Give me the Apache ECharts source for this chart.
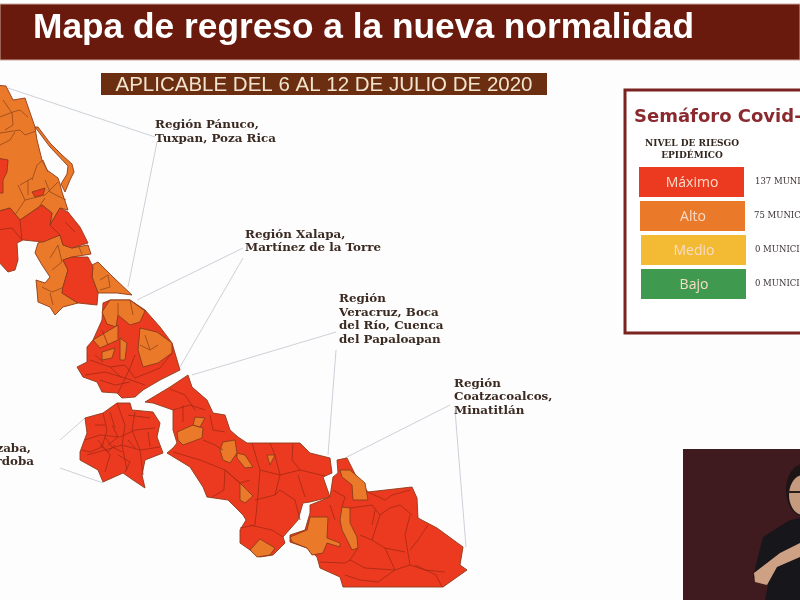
<!DOCTYPE html>
<html>
<head>
<meta charset="utf-8">
<title>Mapa de regreso a la nueva normalidad</title>
<script src="https://cdn.jsdelivr.net/npm/echarts@6/dist/echarts.min.js"></script>
<style>
    html, body { margin: 0; padding: 0; background: #fff; }
    #main { width: 800px; height: 600px; }
</style>
</head>
<body>
<div id="main"></div>
<script>
var riskLevels = ['Máximo', 'Alto', 'Medio', 'Bajo'];
var riskColors = ['#ec3a20', '#ea7a2a', '#f3bb33', '#3f9a50'];
var municipalityCounts = ['137 MUNICIPIOS', '75 MUNICIPIOS', '0 MUNICIPIOS', '0 MUNICIPIOS'];

// outlines, x right and y down. level 0 = Máximo, level 1 = Alto
var regionBase = [
    [[117,403],[130,403],[132,410],[153,412],[160,423],[157,437],[163,453],[145,460],[142,475],[145,488],[133,480],[123,473],[103,482],[98,470],[80,460],[80,452],[87,433],[85,418],[103,413]],
    [[103,303],[110,300],[130,300],[145,310],[160,327],[172,343],[180,370],[160,380],[143,390],[135,397],[122,398],[117,393],[102,392],[97,382],[83,377],[77,367],[87,362],[87,347],[93,340],[102,320]],
    [[188,375],[192,387],[207,400],[213,413],[225,415],[230,430],[238,437],[247,443],[300,443],[310,453],[330,458],[332,473],[323,477],[330,497],[310,502],[303,503],[298,520],[283,537],[285,543],[273,555],[260,557],[250,550],[240,543],[240,530],[246,520],[243,515],[228,500],[207,497],[203,487],[190,467],[167,453],[173,448],[177,443],[173,430],[173,410],[153,403],[145,402],[170,387]],
    [[337,460],[347,458],[357,478],[368,492],[412,487],[417,498],[418,518],[437,528],[463,547],[460,565],[467,570],[443,587],[343,587],[340,577],[320,568],[317,557],[307,548],[290,542],[290,535],[305,530],[310,513],[310,505],[330,497],[333,477],[338,473]]
];
var regionAlto = [
    [[-5,85],[6,86],[13,100],[25,98],[35,127],[37,140],[42,160],[47,170],[58,178],[60,184],[62,192],[68,210],[60,208],[50,225],[52,213],[42,205],[20,220],[10,208],[-5,212]],
    [[35,127],[38,127],[50,143],[62,155],[72,164],[74,172],[70,180],[65,192],[61,184],[67,174],[68,166],[50,147]],
    [[35,253],[38,243],[60,235],[63,245],[72,248],[88,245],[91,254],[72,257],[63,260],[68,270],[63,287],[62,293],[78,303],[63,307],[55,315],[50,307],[38,302],[37,290],[36,280],[45,283],[50,277],[42,265]],
    [[92,265],[98,262],[113,277],[132,295],[117,293],[98,293],[92,277]],
    [[102,312],[110,300],[130,300],[145,311],[140,322],[130,325],[118,315],[116,327],[107,324]],
    [[93,340],[118,325],[118,340],[100,348]],
    [[140,328],[157,332],[172,343],[172,353],[158,363],[143,367],[138,350]],
    [[102,352],[115,348],[112,358],[102,360]],
    [[120,338],[127,343],[125,360],[120,360]],
    [[177,432],[193,425],[203,428],[202,438],[183,445],[178,440]],
    [[195,417],[205,418],[200,427],[193,425]],
    [[223,442],[235,440],[237,453],[230,463],[223,460],[220,450]],
    [[237,453],[245,455],[253,467],[245,468],[237,458]],
    [[267,455],[275,455],[270,465]],
    [[250,550],[260,539],[275,548],[270,555],[257,557]],
    [[240,483],[253,496],[245,503],[240,500]],
    [[340,470],[350,470],[365,483],[368,500],[353,500],[352,485],[342,477]],
    [[290,537],[307,530],[310,517],[328,517],[327,538],[340,543],[340,547],[327,543],[323,553],[312,555],[307,548],[292,542]],
    [[342,507],[350,508],[350,523],[357,537],[358,548],[352,550],[342,530],[340,520]]
];
var regionEncima = [
    [[-3,158],[8,160],[7,172],[3,180],[3,193],[-3,193]],
    [[-3,212],[10,208],[20,220],[42,205],[52,213],[50,225],[60,208],[68,212],[80,227],[88,243],[72,248],[63,245],[60,235],[43,242],[23,240],[17,243],[18,260],[15,270],[8,272],[-3,260]],
    [[63,260],[72,257],[88,257],[93,267],[92,277],[98,293],[97,305],[78,303],[62,293],[63,287],[68,270]],
    [[32,192],[45,188],[43,195],[35,197]]
];

// inner municipal borders
var bordersAlto = [
    [[-3,118],[13,112],[20,110],[28,117]], [[3,100],[12,113],[13,125],[5,130]],
    [[0,133],[20,130],[25,135],[36,131]], [[0,145],[10,140],[15,132]],
    [[32,180],[37,165],[43,160],[48,172]], [[20,185],[32,178]], [[18,185],[25,200],[15,215]],
    [[25,200],[45,195],[58,182]], [[45,180],[50,192],[66,200]], [[28,180],[28,195]], [[37,210],[45,198]],
    [[50,258],[58,245],[62,262],[52,270]], [[42,287],[52,292],[62,288]], [[50,293],[53,305]],
    [[100,280],[108,275],[110,287],[100,290]], [[78,245],[82,254]],
    [[118,303],[118,315]], [[130,300],[133,315]], [[145,335],[150,350],[158,345]], [[140,345],[150,350]]
];
var bordersMaximo = [
    [[-3,230],[12,228],[22,240]], [[20,220],[22,240]], [[50,225],[60,235]], [[65,222],[75,232]],
    [[90,360],[110,367],[125,365]], [[85,375],[105,372],[125,378],[145,385]], [[100,380],[115,385],[130,382]],
    [[125,365],[135,378],[160,368],[172,353]], [[110,367],[122,378]], [[130,368],[118,393]],
    [[102,330],[108,345]], [[95,355],[103,362]], [[135,355],[130,368]],
    [[85,440],[100,435],[120,437],[135,430],[155,428]], [[103,413],[107,430],[102,447],[90,452],[82,450]],
    [[117,403],[125,425],[122,445],[127,470]], [[135,412],[132,430],[140,450],[143,475]],
    [[87,455],[105,450],[122,445],[140,450],[160,447]], [[98,440],[110,455],[105,472]],
    [[112,425],[118,437],[108,445]], [[128,415],[150,418]], [[118,455],[130,462],[125,472]],
    [[148,432],[150,447]], [[95,425],[105,425]], [[110,412],[115,428]],
    [[100,445],[108,452],[115,445]], [[105,437],[112,447],[122,452]], [[128,440],[135,448]],
    [[170,389],[185,395],[195,410]], [[173,410],[190,405],[205,410]], [[183,405],[183,422]],
    [[173,452],[200,460],[225,470],[240,483]], [[203,440],[215,445],[223,450]],
    [[210,415],[213,430],[225,432]], [[225,470],[224,490],[212,497]], [[225,470],[240,483],[250,480]],
    [[252,443],[260,470],[258,495],[255,525],[240,528]], [[260,470],[280,475],[300,470],[325,476]],
    [[293,443],[292,460],[300,470]], [[275,455],[280,475],[275,495],[255,500]],
    [[280,490],[295,500],[300,520]], [[275,495],[280,490]], [[270,443],[275,455]],
    [[250,525],[272,530],[283,537]], [[305,497],[298,475]],
    [[333,490],[345,497],[342,507]], [[350,508],[372,505],[380,515],[390,508],[400,505],[412,515]],
    [[368,492],[385,500],[392,495],[410,490]], [[380,515],[372,540],[385,548],[395,570]],
    [[410,515],[405,535],[410,565],[425,570],[445,572]], [[358,548],[350,560],[365,568],[395,570],[410,565]],
    [[320,562],[345,563],[350,560]], [[395,570],[378,582],[360,580],[345,575]],
    [[360,535],[372,540]], [[375,510],[372,525]], [[330,505],[335,520]], [[428,525],[418,540],[410,550]],
    [[415,565],[436,575],[442,587]], [[385,548],[405,552]]
];

// leader lines and callout texts
var leaderLines = [
    [[8,88],[155,137]], [[157,142],[128,287]],
    [[137,300],[243,248]], [[243,258],[180,367]],
    [[192,375],[336,332]], [[336,350],[328,455]],
    [[345,458],[450,405]], [[455,410],[466,547]],
    [[85,418],[60,440]], [[60,468],[103,483]]
];
var calloutTexts = [
    ['Región Pánuco,', 155, 125], ['Tuxpan, Poza Rica', 155, 139],
    ['Región Xalapa,', 245, 235], ['Martínez de la Torre', 245, 248],
    ['Región', 339, 299], ['Veracruz, Boca', 339, 313], ['del Río, Cuenca', 339, 326], ['del Papaloapan', 339, 340],
    ['Región', 454, 384], ['Coatzacoalcos,', 454, 397], ['Minatitlán', 454, 411]
];

function toGeo(p) { return [p[0], -p[1]]; }

var features = [], seriesData = [];
function addShapes(list, level, prefix) {
    list.forEach(function (ring, i) {
        var name = prefix + i;
        features.push({
            type: 'Feature',
            properties: { name: name },
            geometry: { type: 'Polygon', coordinates: [ring.concat([ring[0]]).map(toGeo)] }
        });
        seriesData.push({ name: name, value: level });
    });
}
addShapes(regionBase, 0, 'base');
addShapes(regionAlto, 1, 'alto');
addShapes(regionEncima, 0, 'max');
echarts.registerMap('veracruz', { type: 'FeatureCollection', features: features });

function borderSeries(list, color) {
    return {
        type: 'lines',
        coordinateSystem: 'geo',
        geoIndex: 0,
        polyline: true,
        silent: true,
        lineStyle: { color: color, width: 1, opacity: 0.85, curveness: 0 },
        data: list.map(function (l) { return { coords: l.map(toGeo) }; })
    };
}

var graphics = [
    { type: 'rect', shape: { x: 0, y: 4, width: 800, height: 56 }, style: { fill: '#6a1a0c', stroke: '#c9a79b', lineWidth: 1 } },
    { type: 'text', style: { text: 'Mapa de regreso a la nueva normalidad', x: 33, y: 28, fill: '#fff', font: 'bold 35.3px "Liberation Sans"', verticalAlign: 'middle' } },
    { type: 'rect', shape: { x: 101, y: 73, width: 446, height: 22 }, style: { fill: '#6b2e10' } },
    { type: 'text', style: { text: 'APLICABLE DEL 6 AL 12 DE JULIO DE 2020', x: 324, y: 85, fill: '#f2e3cf', font: '20.5px "Liberation Sans"', align: 'center', verticalAlign: 'middle' } },
    { type: 'rect', shape: { x: 625, y: 90, width: 190, height: 243 }, style: { fill: '#fff', stroke: '#7a2320', lineWidth: 3 } },
    { type: 'text', style: { text: 'Semáforo Covid-19', x: 634, y: 117, fill: '#8a2a2f', font: 'bold 18px "DejaVu Sans"', verticalAlign: 'middle' } },
    { type: 'text', style: { text: 'NIVEL DE RIESGO', x: 692, y: 144, fill: '#33261f', font: 'bold 9px "DejaVu Serif"', align: 'center', verticalAlign: 'middle' } },
    { type: 'text', style: { text: 'EPIDÉMICO', x: 692, y: 156, fill: '#33261f', font: 'bold 9px "DejaVu Serif"', align: 'center', verticalAlign: 'middle' } },
    { type: 'rect', shape: { x: 683, y: 449, width: 117, height: 151 }, style: { fill: '#3f1a1e' } },
    { type: 'ellipse', shape: { cx: 803, cy: 490, rx: 17, ry: 26 }, style: { fill: '#1d1416' } },
    { type: 'ellipse', shape: { cx: 803, cy: 495, rx: 14, ry: 20 }, style: { fill: '#c59a7e' } },
    { type: 'rect', shape: { x: 787, y: 491, width: 13, height: 2 }, style: { fill: '#2a1c1c' } },
    { type: 'polygon', shape: { points: [[763,537],[790,520],[800,518],[800,600],[765,600],[768,585],[753,578],[756,565]] }, style: { fill: '#17161b' } },
    { type: 'polygon', shape: { points: [[754,573],[780,553],[800,543],[800,557],[777,567],[767,585],[755,582]] }, style: { fill: '#cfa184' } }
];
riskLevels.forEach(function (level, i) {
    var y = 167 + i * 34;
    graphics.push({ type: 'rect', shape: { x: 639 + Math.min(i, 2), y: y, width: 105, height: 30 }, style: { fill: riskColors[i] } });
    graphics.push({ type: 'text', style: { text: level, x: 692 + Math.min(i, 2), y: y + 16, fill: '#f8dcc8', font: '14px "Open Sans"', align: 'center', verticalAlign: 'middle' } });
    graphics.push({ type: 'text', style: { text: municipalityCounts[i], x: i === 1 ? 754 : 755, y: y + 15, fill: '#3a3030', font: '8.5px "DejaVu Serif"', verticalAlign: 'middle' } });
});
leaderLines.forEach(function (l) {
    graphics.push({ type: 'line', shape: { x1: l[0][0], y1: l[0][1], x2: l[1][0], y2: l[1][1] }, style: { stroke: '#cdd1d8', lineWidth: 1 } });
});
calloutTexts.forEach(function (t) {
    graphics.push({ type: 'text', style: { text: t[0], x: t[1], y: t[2], fill: '#3b2a22', font: 'bold 11.9px "DejaVu Serif"', verticalAlign: 'middle' } });
});
graphics.push({ type: 'text', style: { text: 'Región Orizaba,', x: 31, y: 449, fill: '#3b2a22', font: 'bold 11.9px "DejaVu Serif"', align: 'right', verticalAlign: 'middle' } });
graphics.push({ type: 'text', style: { text: 'Córdoba', x: 34, y: 462, fill: '#3b2a22', font: 'bold 11.9px "DejaVu Serif"', align: 'right', verticalAlign: 'middle' } });

var myChart = echarts.init(document.getElementById('main'));
myChart.setOption({
    animation: false,
    backgroundColor: '#fdfdfd',
    geo: {
        map: 'veracruz',
        roam: false,
        silent: true,
        aspectScale: 1,
        left: 0,
        top: 0,
        width: 800,
        height: 600,
        boundingCoords: [[0, 0], [800, -600]],
        label: { show: false },
        itemStyle: { areaColor: riskColors[0], borderColor: '#8e3a18', borderWidth: 0.9 }
    },
    visualMap: {
        show: false,
        seriesIndex: 0,
        type: 'piecewise',
        pieces: [{ value: 0, color: riskColors[0] }, { value: 1, color: riskColors[1] }]
    },
    series: [
        { type: 'map', geoIndex: 0, silent: true, data: seriesData },
        borderSeries(bordersAlto, '#9a4a1a'),
        borderSeries(bordersMaximo, '#a82a14')
    ],
    graphic: graphics
});
</script>
</body>
</html>
